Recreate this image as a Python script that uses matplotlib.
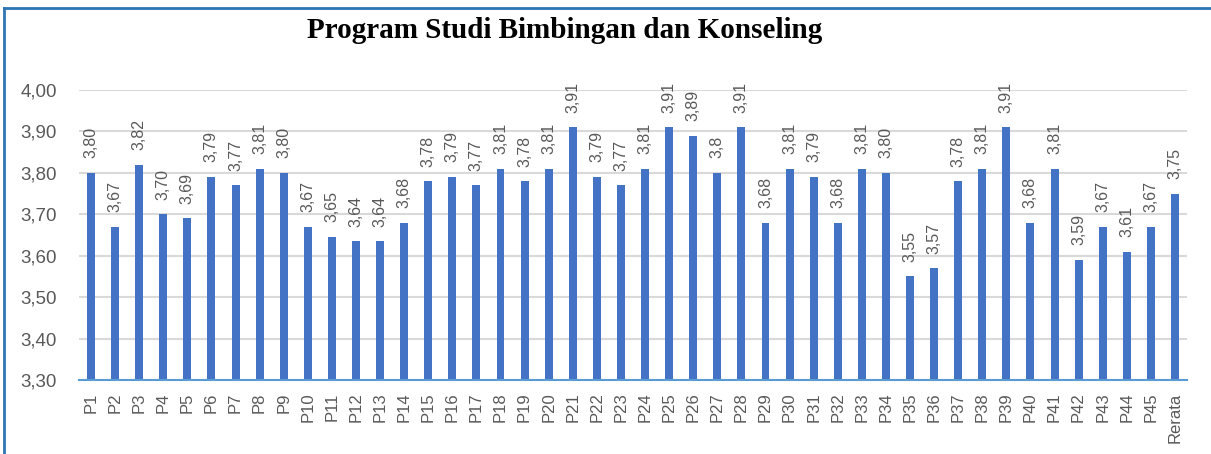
# bar chart of per-item scores, Program Studi Bimbingan dan Konseling
import numpy as np
import matplotlib
matplotlib.use("Agg")
import matplotlib.pyplot as plt
import matplotlib.ticker as ticker
from matplotlib.lines import Line2D

items = [f"P{i}" for i in range(1, 46)] + ["Rerata"]
scores = [3.80, 3.67, 3.82, 3.70, 3.69, 3.79, 3.77, 3.81, 3.80, 3.67,
          3.645, 3.635, 3.635, 3.68, 3.78, 3.79, 3.77, 3.81, 3.78, 3.81,
          3.91, 3.79, 3.77, 3.81, 3.91, 3.89, 3.80, 3.91, 3.68, 3.81,
          3.79, 3.68, 3.81, 3.80, 3.55, 3.57, 3.78, 3.81, 3.91, 3.68,
          3.81, 3.59, 3.67, 3.61, 3.67, 3.75]
score_labels = ["3,80", "3,67", "3,82", "3,70", "3,69", "3,79", "3,77", "3,81", "3,80", "3,67",
                "3,65", "3,64", "3,64", "3,68", "3,78", "3,79", "3,77", "3,81", "3,78", "3,81",
                "3,91", "3,79", "3,77", "3,81", "3,91", "3,89", "3,8", "3,91", "3,68", "3,81",
                "3,79", "3,68", "3,81", "3,80", "3,55", "3,57", "3,78", "3,81", "3,91", "3,68",
                "3,81", "3,59", "3,67", "3,61", "3,67", "3,75"]

plt.rcParams['font.family'] = ['Liberation Sans', 'DejaVu Sans']
grey = "#595959"

fig = plt.figure(figsize=(12.11, 4.54), dpi=100)
ax = fig.add_axes([0.0652, 0.163, 0.915, 0.6388])

x = np.arange(len(items))
ax.bar(x, scores, width=0.33, color="#4472C4", zorder=3)

for xi, val, lab in zip(x, scores, score_labels):
    ax.annotate(lab, (xi, val), xytext=(0, 10.5), textcoords="offset points",
                rotation=90, ha="center", va="bottom", fontsize=11.5,
                color=grey, annotation_clip=False)

ax.set_xlim(-0.5, len(items) - 0.5)
ax.set_ylim(3.30, 4.00)
ax.yaxis.set_major_locator(ticker.MultipleLocator(0.1))
ax.yaxis.set_major_formatter(ticker.FuncFormatter(lambda v, p: f"{v:.2f}".replace(".", ",")))
ax.grid(axis="y", color="#D9D9D9", linewidth=1.5, zorder=0)

ax.set_xticks(x)
ax.set_xticklabels(items, rotation=90, fontsize=12, color=grey)
ax.tick_params(axis="x", length=0, pad=9)
ax.tick_params(axis="y", length=0, pad=16, labelsize=13.5, labelcolor=grey)

for s in ["top", "right", "left"]:
    ax.spines[s].set_visible(False)
ax.spines["bottom"].set_color("#5B9BD5")
ax.spines["bottom"].set_linewidth(1.5)
ax.spines["bottom"].set_zorder(4)

fig.text(0.466, 0.932, "Program Studi Bimbingan dan Konseling", ha="center", va="center",
         fontsize=21, fontweight="bold", family="Liberation Serif")

# frame edges of the original screenshot
fig.add_artist(Line2D([0.0033, 1.0], [0.982, 0.982], color="#2E75B6", linewidth=2))
fig.add_artist(Line2D([0.0033, 0.0033], [0.0, 0.982], color="#2E75B6", linewidth=2))

fig.savefig("out.png", dpi=100)
